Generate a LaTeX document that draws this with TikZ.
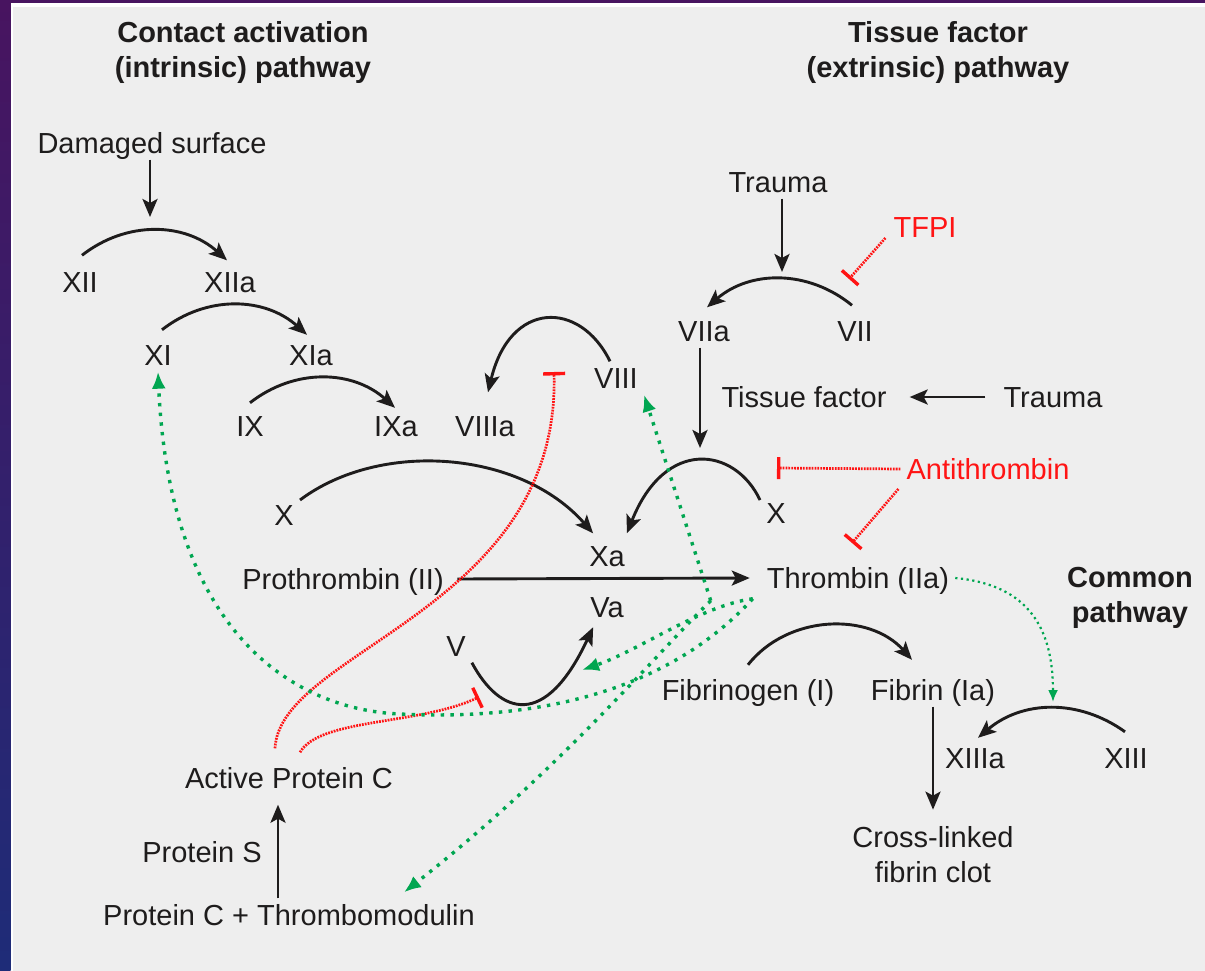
\documentclass[tikz,border=0pt]{standalone}
\usepackage{fontspec}
\setmainfont{Liberation Sans}
\usetikzlibrary{arrows.meta, positioning, calc}
\definecolor{ink}{RGB}{30,28,28}
\definecolor{inhib}{RGB}{255,20,20}
\definecolor{feedb}{RGB}{0,166,81}
\definecolor{panel}{RGB}{238,238,238}
\definecolor{rimtop}{RGB}{72,20,96}
\definecolor{rimbot}{RGB}{30,44,120}
\newcommand{\lblfont}{\fontsize{29}{35}\selectfont}

\begin{document}
\begin{tikzpicture}[
      x=1pt, y=1pt,
      fac/.style={inner sep=6pt, text height=21pt, text depth=0pt,
                  font=\lblfont, text=ink},
      head/.style={inner sep=0pt, font=\lblfont\bfseries, align=center, text=ink},
      arr/.style={-{Stealth[length=18pt,width=15pt,inset=4pt]}, line width=2.9pt, draw=ink},
      conv/.style={arr, bend left=40},
      fdb/.style={-{Latex[length=17pt,width=14pt]}, draw=feedb, line width=3.4pt,
                  dash pattern=on 3.4pt off 6.3pt},
      inh/.style={-{Bar[width=22pt,line width=3.4pt]}, draw=inhib, line width=2.7pt,
                  dash pattern=on 1.8pt off 1.1pt}
    ]
    \useasboundingbox (0,0) rectangle (1205,-971);
    % frame
    \fill[white] (0,0) rectangle (1205,-971);
    \fill[panel] (12.5,-7) rectangle (1205,-971);
    \fill[rimtop] (0,0) rectangle (1205,-3.5);
    \shade[top color=rimtop, bottom color=rimbot] (0,0) rectangle (10.5,-971);

    \node[head] (hint) at (243,-53) {Contact activation\\(intrinsic) pathway};
    \node[head] (hext) at (938,-53) {Tissue factor\\(extrinsic) pathway};
    \node[head] (hcom) at (1130,-598) {Common\\pathway};

    \node[fac] (dam)   at (152,-143) {Damaged surface};
    \node[fac] (xii)   at (80,-282)  {XII};
    \node[fac] (xiia)  at (230,-282) {XIIa};
    \node[fac] (xi)    at (158,-355) {XI};
    \node[fac] (xia)   at (311,-355) {XIa};
    \node[fac] (ix)    at (250,-426) {IX};
    \node[fac] (ixa)   at (396,-426) {IXa};
    \node[fac] (viiia) at (485,-426) {VIIIa};
    \node[fac] (viii)  at (616,-378) {VIII};
    \node[fac] (traua) at (778,-182) {Trauma};
    \node[fac, text=inhib] (tfpi) at (925,-227) {TFPI};
    \node[fac] (viia)  at (704,-331) {VIIa};
    \node[fac] (vii)   at (855,-331) {VII};
    \node[fac] (tf)    at (804,-397) {Tissue factor};
    \node[fac] (traub) at (1053,-397) {Trauma};
    \node[fac, text=inhib] (anti) at (988,-469) {Antithrombin};
    \node[fac] (xl)    at (284,-515) {X};
    \node[fac] (xr)    at (776,-513) {X};
    \node[fac] (xa)    at (607,-556) {Xa};
    \node[fac] (pro)   at (343,-579) {Prothrombin (II)};
    \node[fac] (thr)   at (858,-578) {Thrombin (IIa)};
    \node[fac] (va)    at (607,-607) {Va};
    \node[fac] (v)     at (456,-646) {V};
    \node[fac] (fgn)   at (748,-690) {Fibrinogen (I)};
    \node[fac] (fbn)   at (933,-690) {Fibrin (Ia)};
    \node[fac] (xiiia) at (975,-758) {XIIIa};
    \node[fac] (xiii)  at (1126,-758) {XIII};
    \node[head, font=\lblfont] (clot) at (933,-855) {Cross-linked\\fibrin clot};
    \node[fac] (apc)   at (289,-778) {Active Protein C};
    \node[fac] (ps)    at (202,-852) {Protein S};
    \node[fac] (pct)   at (289,-915) {Protein C + Thrombomodulin};

    \coordinate (j12) at (150,-217);
    \coordinate (j7)  at (782,-272);
    \coordinate (jx)  at (700,-448);
    \coordinate (j13) at (1053,-702);

    % cascade
    \draw[arr] ([xshift=-2pt]dam.south) -- (j12);
    \draw[conv] ([shift={(2,10)}]xii.north) to ([shift={(-3,5)}]xiia.north);
    \draw[conv] ([shift={(4,8.5)}]xi.north) to ([shift={(-4,3.5)}]xia.north);
    \draw[conv] ([shift={(0,6.5)}]ix.north) to ([shift={(-1,1.5)}]ixa.north);
    \draw[arr] ([xshift=-6pt]viii.north) .. controls (580,-300) and (510,-300)
               .. ([shift={(3,17)}]viiia.north);
    \draw[arr] ([xshift=4pt]traua.south) -- (j7);
    \draw[arr] ([shift={(-3,9)}]vii.north) to[bend right=40] ([shift={(3,7)}]viia.north);
    \draw[arr] ([xshift=-4pt]viia.south) -- (jx);
    \draw[arr] ([xshift=-12pt]traub.west) -- ([xshift=17pt]tf.east);
    \draw[arr] ($(xl)+(16,15)$) .. controls (380,-440) and (520,-450) .. ($(xa.north west)+(10,6)$);
    \draw[arr] ($(xr)+(-16,13)$) .. controls (735,-447) and (665,-437) .. ($(xa.north east)+(-4,6)$);
    \draw[arr] ([xshift=7.5pt]pro.east) -- ([xshift=-11pt]thr.west);
    \draw[arr] (v.south east) .. controls (500,-715) and (545,-730) .. ([shift={(9,-3.5)}]va.south west);
    \draw[arr] ([shift={(0,8.5)}]fgn.north) to[bend left=50] ([shift={(-21,13.5)}]fbn.north);
    \draw[arr] (fbn.south) -- ([yshift=17pt]clot.north);
    \draw[arr] ([shift={(-1,9.5)}]xiii.north) to[bend right=38] ([shift={(3,3.5)}]xiiia.north);
    \draw[arr] ([xshift=-11pt]pct.north) -- ([shift={(-11,-10)}]apc.south);

    % inhibition
    \coordinate (t7)  at (849,-279);
    \coordinate (t10) at (777,-468);
    \coordinate (t2)  at (852,-543);
    \coordinate (t8)  at (554,-372);
    \coordinate (t5)  at (479,-697);
    \draw[inh] ([shift={(-2,-11)}]tfpi.west) -- (t7);
    \draw[inh] (anti.west) -- (t10);
    \draw[inh] ([shift={(-2,-20)}]anti.west) -- (t2);
    \draw[inh] ([shift={(-14,13)}]apc.north) .. controls (280,-650) and (560,-610) .. (t8);
    \draw[inh] ([shift={(11,9)}]apc.north) .. controls (320,-718) and (420,-725) .. (t5);

    % thrombin feedback
    \coordinate (fb)  at ($(thr.south west)+(-8,-4)$);
    \coordinate (fb8) at ($(thr.south west)+(-50,-6)$);
    \coordinate (fv)  at (582,-670);
    \draw[fdb] (fb8) -- (viii.south east);
    \draw[fdb] (fb) .. controls (700,-606) and (640,-650) .. (fv);
    \draw[fdb] (fb8) .. controls (660,-650) and (560,-770) .. ($(pct.north)+(115,6)$);
    \draw[fdb] (fb) .. controls (660,-700) and (520,-720) .. (400,-714)
               .. controls (300,-710) and (170,-640) .. (xi.south);
    \draw[fdb, -{Latex[length=12pt,width=10pt]}, line width=2.2pt, dash pattern=on 2.2pt off 3.5pt]
          (thr.east) .. controls (1030,-585) and (1053,-630) .. (j13);
  \end{tikzpicture}
\end{document}
